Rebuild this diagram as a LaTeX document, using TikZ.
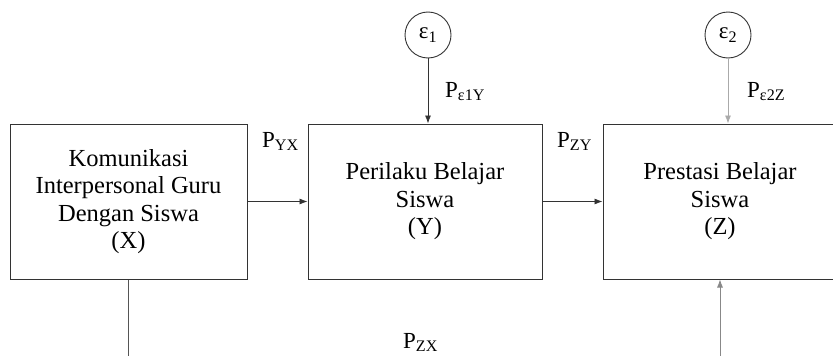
\documentclass[tikz,border=0pt]{standalone}
\usepackage{fontspec}
\setmainfont{Liberation Serif}
\usetikzlibrary{arrows.meta}
\definecolor{edgedark}{HTML}{333333}
\definecolor{edgemid}{HTML}{555555}
\definecolor{edgelight}{HTML}{AAAAAA}
\begin{document}
\begin{tikzpicture}[x=1pt,y=-1pt,
  box/.style={draw=edgedark, line width=1pt, minimum height=155pt, inner sep=0pt,
    align=center, font=\fontsize{24.5}{27.5}\selectfont},
  errc/.style={draw=edgedark, line width=0.9pt, circle, minimum size=46pt, inner sep=0pt,
    font=\fontsize{23}{26}\selectfont},
  conn/.style={line width=0.8pt, draw=edgedark, -{Latex[length=8pt,width=6pt]}},
  plabel/.style={anchor=base west, inner sep=0pt, font=\fontsize{23}{26}\selectfont}
]
\useasboundingbox (0,0) rectangle (833,356);
\clip (0,0) rectangle (833,356);

\node[box, minimum width=237pt] (X) at (128.5,201.5) {Komunikasi\\Interpersonal Guru\\Dengan Siswa\\(X)};
\node[box, minimum width=234pt] (Y) at (425,201.5) {Perilaku Belajar\\Siswa\\(Y)};
\node[box, minimum width=234pt] (Z) at (720,201.5) {Prestasi Belajar\\Siswa\\(Z)};

\node[errc] (e1) at (428,35) {ε\textsubscript{1}};
\node[errc] (e2) at (728,35) {ε\textsubscript{2}};

\coordinate (xdown) at (130,380);
\coordinate (zup) at (720,380);

\draw[conn] (X.east) -- (Y.west);
\draw[conn] (Y.east) -- (Z.west);
\draw[conn] (e1.south) -- (e1.south |- Y.north);
\draw[conn, draw=edgelight] (e2.south) -- (e2.south |- Z.north);
\draw[line width=0.8pt, draw=edgemid] (xdown -| X.south) -- (X.south) ;
\draw[conn, draw=edgelight!80!black] (zup) -- (Z.south);

\node[plabel] (pyx) at (262,147) {P\textsubscript{YX}};
\node[plabel] (pzy) at (557,147) {P\textsubscript{ZY}};
\node[plabel] (pe1y) at (445,97) {P\textsubscript{ε1Y}};
\node[plabel] (pe2z) at (747,97) {P\textsubscript{ε2Z}};
\node[plabel] (pzx) at (403,348) {P\textsubscript{ZX}};
\end{tikzpicture}
\end{document}
